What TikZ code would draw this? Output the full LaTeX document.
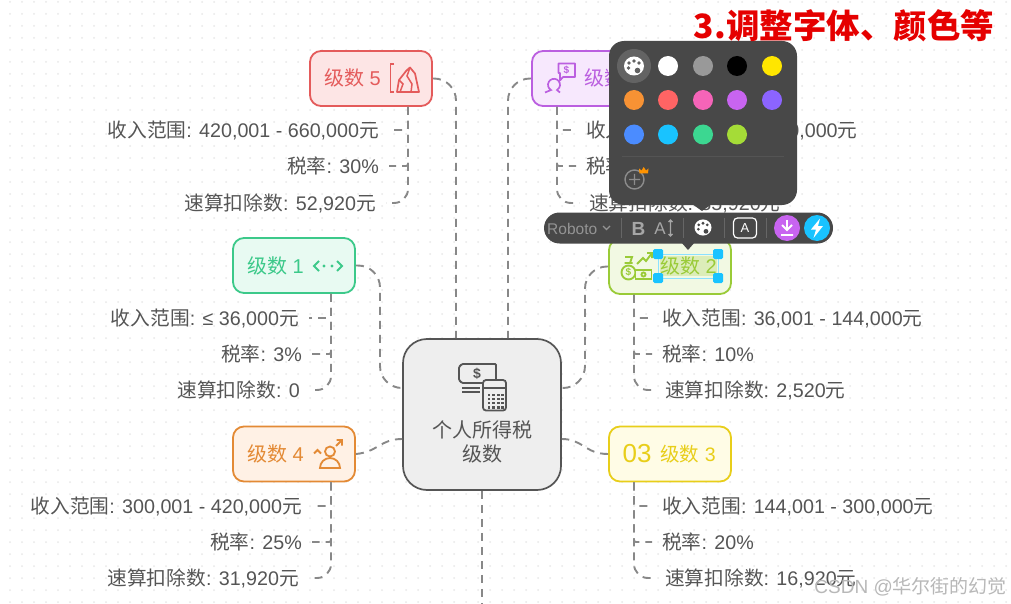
\documentclass[tikz,border=0pt]{standalone}
\usepackage{fontspec}
\setmainfont{Liberation Sans}
\newfontfamily\cjk{Noto Sans CJK SC}
\usepackage{xcolor}
\usetikzlibrary{positioning,calc}

\definecolor{inkgray}{HTML}{555555}
\definecolor{linegray}{HTML}{888888}
\definecolor{dotgray}{HTML}{E8E8E8}
\definecolor{darkpanel}{HTML}{484848}
\definecolor{redline}{HTML}{E45B5B}
\definecolor{redfill}{HTML}{FDE5E5}
\definecolor{greenline}{HTML}{3CC98A}
\definecolor{greenfill}{HTML}{E8FAF2}
\definecolor{orangeline}{HTML}{E38A35}
\definecolor{orangefill}{HTML}{FFF1E5}
\definecolor{purpleline}{HTML}{BB5FE0}
\definecolor{purplefill}{HTML}{F7E8FD}
\definecolor{limeline}{HTML}{9ACB38}
\definecolor{limefill}{HTML}{F2F9E3}
\definecolor{yellowline}{HTML}{E8CE1A}
\definecolor{yellowfill}{HTML}{FFFCE6}
\definecolor{handleblue}{HTML}{19C3FF}
\definecolor{pickpurple}{HTML}{C864F0}

\newcommand{\zh}[1]{{\cjk #1}}

\tikzset{
  lvlbox/.style={rounded corners=11pt,line width=1.8pt,minimum width=122pt,minimum height=55pt,inner sep=0pt},
  lvltext/.style={font=\fontsize{20}{20}\selectfont,inner sep=0pt},
  leafleft/.style={anchor=east,font=\fontsize{19.7}{20}\selectfont,text=inkgray,inner xsep=10pt,inner ysep=0pt},
  leafright/.style={anchor=west,font=\fontsize{19.7}{20}\selectfont,text=inkgray,inner xsep=10pt,inner ysep=0pt},
  branch/.style={draw=linegray,line width=1.9pt,dash pattern=on 8pt off 6pt,rounded corners=22pt},
  twig/.style={draw=linegray,line width=1.9pt,dash pattern=on 8pt off 6pt,rounded corners=2pt},
  twiglast/.style={twig,rounded corners=14pt},
  swatch/.style={circle,minimum size=20pt,inner sep=0pt},
  selhandle/.style={fill=handleblue,rounded corners=1.5pt,minimum size=10pt,inner sep=0pt},
  toolsep/.style={draw=#1,line width=0.8pt},
  palette/.pic={
    \fill[white] (0,0) ellipse (10pt and 9.5pt);
    \fill[#1] (-5,-3) circle (1.8pt) (0,-5) circle (1.8pt) (5,-3) circle (1.8pt) (-5.5,2) circle (1.8pt) (3.5,4.5) circle (2.8pt);
  }
}

\begin{document}
\begin{tikzpicture}[x=1pt,y=-1pt]
  \useasboundingbox[fill=white] (0,0) rectangle (1011,604);
  % dotted paper
  \foreach \i in {0,...,83}
    \foreach \j in {0,...,50}
      \fill[dotgray] (\i*12+10,\j*12+2) circle (1pt);

  % root
  \node[draw=inkgray,fill=black!6.5,rounded corners=24pt,line width=1.7pt,minimum width=158pt,minimum height=151pt] (root) at (482,414.5) {};
  \node[align=center,text=inkgray,font=\cjk\fontsize{20}{24}\selectfont,inner sep=0pt] (roottext) at (482,442) {个人所得税\\级数};

  % level boxes
  \node[lvlbox,draw=redline,fill=redfill] (lvlfive) at (371,78.5) {};
  \node[lvlbox,draw=greenline,fill=greenfill] (lvlone) at (294,265.5) {};
  \node[lvlbox,draw=orangeline,fill=orangefill] (lvlfour) at (294,454) {};
  \node[lvlbox,draw=purpleline,fill=purplefill] (lvlsix) at (593,78.5) {};
  \node[lvlbox,draw=limeline,fill=limefill] (lvltwo) at (670,266.5) {};
  \node[lvlbox,draw=yellowline,fill=yellowfill] (lvlthree) at (670,454) {};

  \node[lvltext,text=redline] (lvlfivetext) at (352.5,78) {\zh{级数} 5};
  \node[lvltext,text=greenline] (lvlonetext) at (275.5,266) {\zh{级数} 1};
  \node[lvltext,text=orangeline] (lvlfourtext) at (275.5,454) {\zh{级数} 4};
  \node[lvltext,text=purpleline,anchor=west] (lvlsixtext) at (584,78) {\zh{级数} 6};
  \node[lvltext,text=yellowline,font=\fontsize{26}{26}\selectfont] (threenum) at (637,454) {03};
  \node[lvltext,text=yellowline,font=\fontsize{19.5}{20}\selectfont] (lvlthreetext) at (688,454) {\zh{级数} 3};

  % leaves
  \node[leafleft] (fiveA) at (389,130) {\zh{收入范围}: 420,001 - 660,000\zh{元}};
  \node[leafleft] (fiveB) at (389,166) {\zh{税率}: 30\%};
  \node[leafleft] (fiveC) at (386,203) {\zh{速算扣除数}: 52,920\zh{元}};
  \node[leafleft] (oneA) at (309,318) {\zh{收入范围}: ≤ 36,000\zh{元}};
  \node[leafleft] (oneB) at (312,354) {\zh{税率}: 3\%};
  \node[leafleft] (oneC) at (310,390) {\zh{速算扣除数}: 0};
  \node[leafleft] (fourA) at (312,506) {\zh{收入范围}: 300,001 - 420,000\zh{元}};
  \node[leafleft] (fourB) at (312,542) {\zh{税率}: 25\%};
  \node[leafleft] (fourC) at (309,578) {\zh{速算扣除数}: 31,920\zh{元}};
  \node[leafright] (sixA) at (576,130) {\zh{收入范围}: 660,001 - 960,000\zh{元}};
  \node[leafright] (sixB) at (576,166) {\zh{税率}: 35\%};
  \node[leafright] (sixC) at (579,203) {\zh{速算扣除数}: 85,920\zh{元}};
  \node[leafright] (twoA) at (652,318) {\zh{收入范围}: 36,001 - 144,000\zh{元}};
  \node[leafright] (twoB) at (652,354) {\zh{税率}: 10\%};
  \node[leafright] (twoC) at (655,390) {\zh{速算扣除数}: 2,520\zh{元}};
  \node[leafright] (threeA) at (652,506) {\zh{收入范围}: 144,001 - 300,000\zh{元}};
  \node[leafright] (threeB) at (652,542) {\zh{税率}: 20\%};
  \node[leafright] (threeC) at (655,578) {\zh{速算扣除数}: 16,920\zh{元}};

  % connectors
  \coordinate (bendone) at (380,388);
  \coordinate (bendtwo) at (585,388);
  \coordinate (offpage) at (482,604);
  \draw[branch] (lvlfive.east) -| ([xshift=-26pt]root.north);
  \draw[branch] (lvlsix.west) -| ([xshift=26pt]root.north);
  \draw[branch] (lvlone.east) -| (bendone) -- ([yshift=26.5pt]root.west);
  \draw[branch] (lvltwo.west) -| (bendtwo) -- ([yshift=26.5pt]root.east);
  \draw[branch] (lvlfour.east) .. controls (378,452) and (380,439) .. ([yshift=-24.5pt]root.west);
  \draw[branch] (lvlthree.west) .. controls (585,454) and (583,439) .. ([yshift=-24.5pt]root.east);
  \draw[branch] (root.south) -- (offpage);

  \foreach \lvl/\leaf in {lvlfive/fiveA,lvlfive/fiveB,lvlone/oneA,lvlone/oneB,lvlfour/fourA,lvlfour/fourB}
    \draw[twig] ([xshift=37pt]\lvl.south) |- (\leaf.east);
  \foreach \lvl/\leaf in {lvlfive/fiveC,lvlone/oneC,lvlfour/fourC}
    \draw[twiglast] ([xshift=37pt]\lvl.south) |- (\leaf.east);
  \foreach \lvl/\leaf in {lvlsix/sixA,lvlsix/sixB,lvltwo/twoA,lvltwo/twoB,lvlthree/threeA,lvlthree/threeB}
    \draw[twig] ([xshift=-36pt]\lvl.south) |- (\leaf.west);
  \foreach \lvl/\leaf in {lvlsix/sixC,lvltwo/twoC,lvlthree/threeC}
    \draw[twiglast] ([xshift=-36pt]\lvl.south) |- (\leaf.west);

  % root icon
  \begin{scope}[draw=inkgray,line width=1.8pt]
    \draw[rounded corners=1pt] (462,364) -- (496,364) -- (496,380) -- (493,383) -- (462,383) -- (459,380) -- (459,367) -- cycle;
    \node[text=inkgray,font=\bfseries\fontsize{14}{14}\selectfont,inner sep=0pt] (dollar) at (477,374) {\$};
    \draw (462,388) -- (480,388) (462,392) -- (480,392);
    \draw[fill=black!6.5,rounded corners=3pt] (483,380) rectangle (506,410.5);
    \draw (483,388) -- (506,388);
    \foreach \i in {0,1,2,3}
      \foreach \j in {0,1,2,3}
        \fill[inkgray] (487.5+\i*4.6,393.5+\j*4.2) rectangle ++(2.8,2.4);
  \end{scope}

  % red icon
  \draw[redline,line width=1.7pt] (394,64) -- (390.5,64) -- (390.5,92) -- (394,92);
  \draw[redline,line width=1.7pt,line join=round] (397,92) -- (399,80) -- (406.5,70.5) -- (410,67.5) -- (415,73.5) -- (419,92) -- cycle;
  \draw[redline,line width=1.5pt] (399,80) -- (403,84) -- (400,92) (410,67.5) -- (407,76) -- (412,84) -- (411,92);

  % green icon
  \draw[greenline,line width=1.8pt] (319,261) -- (314,266) -- (319,271) (337,261) -- (342,266) -- (337,271);
  \fill[greenline] (324,266) circle (1.7pt) (332,266) circle (1.7pt);

  % orange icon
  \begin{scope}[draw=orangeline,line width=1.8pt]
    \draw (330,451.5) circle (5pt);
    \draw (320,468) arc[start angle=180,end angle=0,radius=10pt] -- cycle;
    \draw (336,446) -- (342,440) (336.5,440) -- (342,440) -- (342,445.5);
    \draw (314,453.5) -- (317.5,450) -- (321,453.5);
  \end{scope}

  % purple icon
  \begin{scope}[draw=purpleline,line width=1.7pt]
    \draw[line join=round] (558.5,63.5) -- (575,63.5) -- (575,77) -- (563,77) -- (560,80.5) -- (560,73) -- (558.5,73) -- cycle;
    \node[text=purpleline,font=\bfseries\fontsize{10}{10}\selectfont,inner sep=0pt] (sixdollar) at (566.5,70) {\$};
    \draw (545,92.5) -- (551,90) arc[start angle=240,end angle=-60,radius=6pt] -- (560,92.5);
  \end{scope}

  % lime icon
  \begin{scope}[draw=limeline,line width=1.9pt]
    \draw (628.5,272.5) circle (7pt);
    \draw (624.5,263) -- (632.5,263) (625,257) -- (632,257) -- (630,263);
    \node[text=limeline,font=\bfseries\fontsize{10}{10}\selectfont,inner sep=0pt] (twodollar) at (628.5,272.5) {\$};
    \draw[fill=limefill] (635.5,270) rectangle (651.5,279);
    \draw (643.5,274.5) circle (2pt);
    \draw (637,264) -- (643,258) -- (646,261) -- (652,253) (647,253) -- (652,253) -- (652,258);
  \end{scope}

  % selected text
  \fill[limeline!35] (660,256) rectangle (717,276);
  \draw[handleblue!50,line width=0.8pt] (658,254) rectangle (718,278);
  \node[lvltext,text=limeline] (lvltwotext) at (688.5,266) {\zh{级数} 2};
  \foreach \name/\hx/\hy in {hA/658/254,hB/718/254,hC/658/278,hD/718/278}
    \node[selhandle] (\name) at (\hx,\hy) {};

  % colour popup
  \fill[darkpanel] (692,204) -- (702,211) -- (712,204) -- cycle;
  \node[fill=darkpanel,rounded corners=15pt,minimum width=188pt,minimum height=164pt,inner sep=0pt] (popup) at (703,123) {};
  \node[circle,fill=white!15!darkpanel,minimum size=34pt,inner sep=0pt] (pickcur) at (634,66) {};
  \pic at (pickcur) {palette=white!15!darkpanel};
  \foreach \name/\sx/\sy/\col in {
      a/668/66/FFFFFF,b/703/66/999999,c/737/66/000000,d/772/66/FFE600,
      e/634/100/F79234,f/668/100/FF6464,g/703/100/F564B8,h/737/100/C864F0,i/772/100/8C64FF,
      j/634/134.5/4B8CFF,k/668/134.5/19C3FF,l/703/134.5/3CD791,m/737/134.5/A5DC37}{
    \definecolor{swcol}{HTML}{\col}
    \node[swatch,fill=swcol] (sw\name) at (\sx,\sy) {};
  }
  \draw[black!67,line width=0.6pt] (622,156.5) -- (784,156.5);
  \draw[black!45,line width=1.4pt] (634.5,179.5) circle (9.5pt) (634.5,174) -- (634.5,185) (629,179.5) -- (640,179.5);
  \fill[orange!85!yellow] (639.5,173.5) -- (639,168.5) -- (641.5,170.5) -- (643.7,167) -- (646,170.5) -- (648.5,168.5) -- (648,173.5) -- cycle;

  % toolbar
  \fill[darkpanel] (681,242) -- (688,250) -- (695,242) -- cycle;
  \node[fill=darkpanel,rounded corners=15.5pt,minimum width=289pt,minimum height=31pt,inner sep=0pt] (toolbar) at (688.5,228) {};
  \node[text=black!42,font=\fontsize{15.5}{16}\selectfont,inner sep=0pt,anchor=west] (fontname) at (547,228.5) {Roboto};
  \draw[black!42,line width=1.2pt] (603,226) -- (606.5,229.5) -- (610,226);
  \foreach \sepx in {621,683,724,766}
    \draw[toolsep=black!60] (\sepx,218) -- (\sepx,238);
  \node[text=black!35,font=\bfseries\fontsize{19}{19}\selectfont,inner sep=0pt] (boldbtn) at (638.5,228.5) {B};
  \node[text=black!35,font=\fontsize{17}{17}\selectfont,inner sep=0pt] (sizebtn) at (660,228.5) {A};
  \draw[black!35,line width=1.2pt] (670.5,220) -- (670.5,236) (668.5,222) -- (670.5,220) -- (672.5,222) (668.5,234) -- (670.5,236) -- (672.5,234);
  \pic[scale=0.85] at (703,227.5) {palette=darkpanel};
  \node[draw=white,rounded corners=4pt,line width=1.2pt,minimum width=23pt,minimum height=20pt,inner sep=0pt,text=white,font=\fontsize{13}{13}\selectfont] (boxbtn) at (745,228) {A};
  \node[circle,fill=pickpurple,minimum size=26pt,inner sep=0pt] (savebtn) at (787,228) {};
  \draw[white,line width=1.8pt] (787,220) -- (787,228) (782,225) -- (787,230) -- (792,225) (781,235) -- (793,235);
  \node[circle,fill=handleblue,minimum size=26pt,inner sep=0pt] (flashbtn) at (817,228) {};
  \fill[white] (820,218.5) -- (811,229.5) -- (816,229.5) -- (813.5,238) -- (823,226) -- (818,226) -- cycle;

  % caption and mark
  \node[text=red!90!black,font=\cjk\bfseries\fontsize{33.5}{34}\selectfont,inner sep=0pt] (caption) at (844,26) {3.调整字体、颜色等};
  \node[text=black!28,font=\fontsize{19}{19}\selectfont,inner sep=0pt,anchor=east] (mark) at (1007,587) {CSDN @\zh{华尔街的幻觉}};
\end{tikzpicture}
\end{document}
